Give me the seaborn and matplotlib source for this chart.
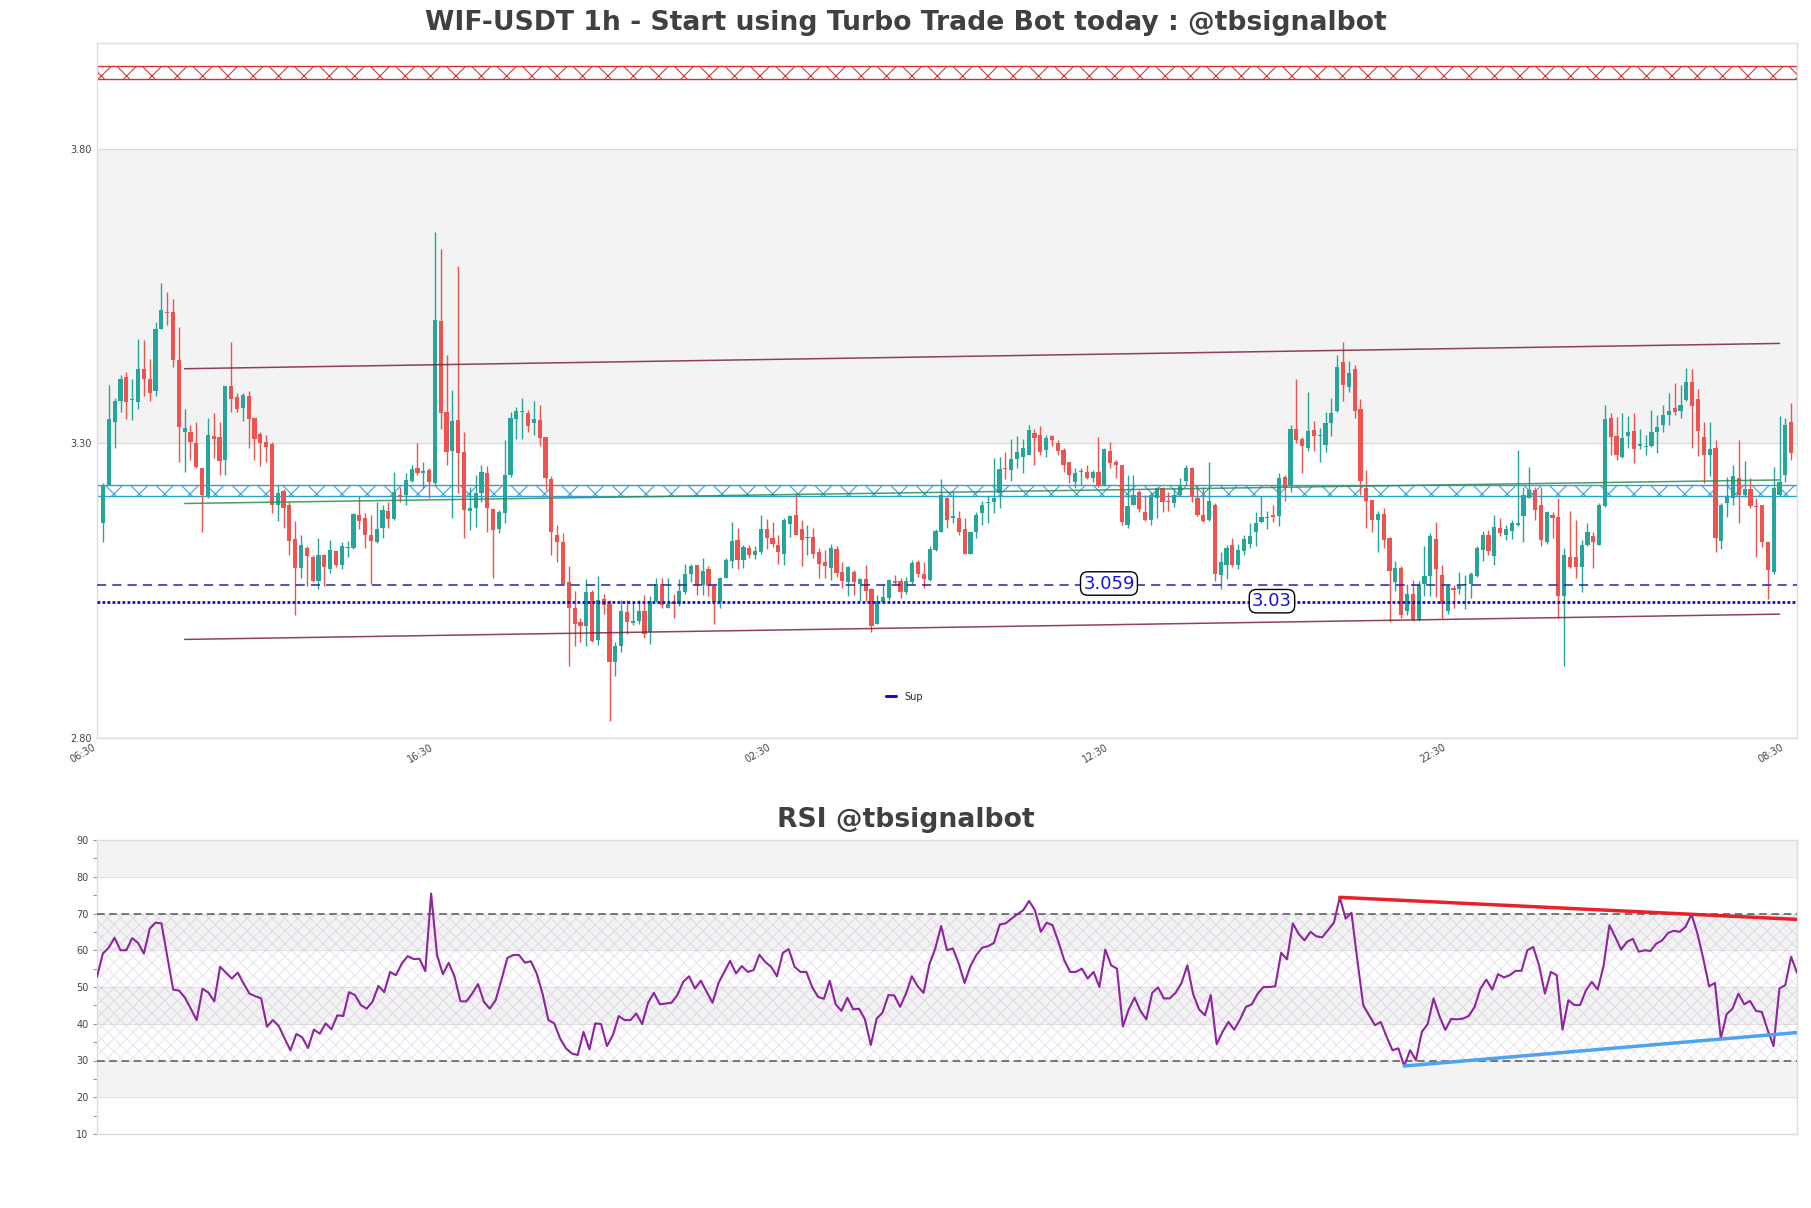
import numpy as np
import pandas as pd
import matplotlib
matplotlib.use("Agg")
import matplotlib.pyplot as plt
import seaborn as sns
from matplotlib.lines import Line2D

# ---------------- data ----------------
opens = [
    3.165, 3.230, 3.337, 3.372, 3.413, 3.374, 3.371, 3.426, 3.410, 3.389,
    3.495, 3.523, 3.523, 3.442, 3.320, 3.319, 3.300, 3.258, 3.209, 3.313,
    3.311, 3.272, 3.397, 3.379, 3.361, 3.380, 3.344, 3.316, 3.303, 3.299,
    3.195, 3.219, 3.195, 3.137, 3.089, 3.122, 3.107, 3.066, 3.111, 3.086,
    3.117, 3.093, 3.122, 3.123, 3.179, 3.173, 3.144, 3.133, 3.157, 3.185,
    3.171, 3.213, 3.213, 3.236, 3.258, 3.249, 3.255, 3.232, 3.508, 3.353,
    3.287, 3.340, 3.285, 3.186, 3.191, 3.215, 3.249, 3.188, 3.155, 3.181,
    3.246, 3.342, 3.354, 3.352, 3.334, 3.340, 3.311, 3.239, 3.144, 3.133,
    3.065, 3.021, 2.996, 2.989, 3.048, 2.966, 3.036, 3.028, 2.928, 2.955,
    3.013, 2.995, 2.998, 3.015, 2.979, 3.032, 3.062, 3.021, 3.031, 3.028,
    3.048, 3.079, 3.094, 3.060, 3.087, 3.058, 3.030, 3.072, 3.100, 3.136,
    3.102, 3.122, 3.111, 3.115, 3.155, 3.139, 3.128, 3.113, 3.163, 3.179,
    3.155, 3.140, 3.141, 3.115, 3.099, 3.089, 3.121, 3.081, 3.065, 3.081,
    3.062, 3.069, 3.053, 2.994, 3.031, 3.037, 3.066, 3.066, 3.047, 3.065,
    3.098, 3.079, 3.068, 3.119, 3.150, 3.207, 3.173, 3.174, 3.155, 3.113,
    3.150, 3.181, 3.199, 3.200, 3.215, 3.259, 3.255, 3.273, 3.277, 3.281,
    3.317, 3.315, 3.289, 3.313, 3.300, 3.289, 3.268, 3.234, 3.251, 3.252,
    3.242, 3.251, 3.229, 3.287, 3.268, 3.264, 3.162, 3.196, 3.218, 3.184,
    3.170, 3.208, 3.225, 3.202, 3.198, 3.213, 3.236, 3.259, 3.207, 3.179,
    3.170, 3.196, 3.076, 3.093, 3.128, 3.094, 3.117, 3.130, 3.149, 3.167,
    3.174, 3.179, 3.177, 3.243, 3.228, 3.324, 3.308, 3.293, 3.323, 3.312,
    3.297, 3.334, 3.355, 3.439, 3.396, 3.426, 3.358, 3.225, 3.204, 3.170,
    3.180, 3.140, 3.064, 3.088, 3.015, 3.045, 3.000, 3.062, 3.074, 3.137,
    3.077, 3.015, 3.054, 3.053, 3.059, 3.061, 3.075, 3.119, 3.145, 3.109,
    3.157, 3.144, 3.151, 3.161, 3.177, 3.208, 3.221, 3.195, 3.133, 3.179,
    3.175, 3.040, 3.107, 3.107, 3.090, 3.128, 3.142, 3.128, 3.194, 3.344,
    3.313, 3.277, 3.313, 3.321, 3.296, 3.294, 3.296, 3.320, 3.332, 3.348,
    3.361, 3.355, 3.374, 3.405, 3.375, 3.311, 3.280, 3.293, 3.134, 3.198,
    3.207, 3.242, 3.213, 3.222, 3.194, 3.195, 3.132, 3.082, 3.212, 3.247, 3.336,
]
highs = [
    3.232, 3.399, 3.378, 3.416, 3.422, 3.410, 3.478, 3.476, 3.443, 3.507,
    3.573, 3.558, 3.545, 3.498, 3.358, 3.332, 3.336, 3.258, 3.344, 3.351,
    3.337, 3.397, 3.472, 3.385, 3.385, 3.389, 3.344, 3.320, 3.314, 3.303,
    3.229, 3.222, 3.200, 3.168, 3.145, 3.125, 3.110, 3.139, 3.113, 3.136,
    3.117, 3.133, 3.135, 3.181, 3.211, 3.181, 3.179, 3.201, 3.195, 3.201,
    3.252, 3.226, 3.249, 3.263, 3.300, 3.269, 3.258, 3.660, 3.630, 3.450,
    3.391, 3.602, 3.320, 3.226, 3.247, 3.263, 3.262, 3.191, 3.187, 3.306,
    3.354, 3.362, 3.378, 3.357, 3.372, 3.365, 3.311, 3.245, 3.162, 3.147,
    3.092, 3.049, 3.003, 3.070, 3.051, 3.074, 3.045, 3.034, 2.963, 3.034,
    3.034, 3.031, 3.034, 3.043, 3.040, 3.072, 3.072, 3.071, 3.045, 3.070,
    3.096, 3.096, 3.094, 3.106, 3.091, 3.062, 3.073, 3.105, 3.167, 3.156,
    3.127, 3.128, 3.126, 3.179, 3.171, 3.167, 3.145, 3.173, 3.179, 3.215,
    3.170, 3.161, 3.156, 3.123, 3.119, 3.130, 3.125, 3.099, 3.092, 3.085,
    3.072, 3.093, 3.054, 3.042, 3.061, 3.070, 3.076, 3.071, 3.073, 3.102,
    3.102, 3.099, 3.125, 3.155, 3.239, 3.209, 3.218, 3.185, 3.173, 3.150,
    3.184, 3.202, 3.211, 3.276, 3.277, 3.285, 3.308, 3.313, 3.308, 3.331,
    3.324, 3.329, 3.315, 3.315, 3.306, 3.292, 3.268, 3.259, 3.258, 3.264,
    3.255, 3.311, 3.293, 3.302, 3.272, 3.264, 3.247, 3.247, 3.221, 3.213,
    3.218, 3.226, 3.226, 3.218, 3.224, 3.241, 3.263, 3.260, 3.229, 3.226,
    3.268, 3.198, 3.116, 3.128, 3.140, 3.130, 3.144, 3.164, 3.184, 3.211,
    3.185, 3.196, 3.249, 3.246, 3.331, 3.409, 3.311, 3.388, 3.338, 3.327,
    3.353, 3.378, 3.450, 3.473, 3.440, 3.433, 3.375, 3.255, 3.204, 3.185,
    3.191, 3.141, 3.100, 3.091, 3.062, 3.068, 3.066, 3.125, 3.147, 3.167,
    3.094, 3.062, 3.059, 3.082, 3.077, 3.082, 3.126, 3.151, 3.153, 3.178,
    3.173, 3.162, 3.170, 3.289, 3.226, 3.260, 3.226, 3.226, 3.185, 3.184,
    3.208, 3.123, 3.185, 3.170, 3.136, 3.164, 3.150, 3.198, 3.366, 3.351,
    3.345, 3.351, 3.347, 3.351, 3.325, 3.315, 3.357, 3.348, 3.366, 3.385,
    3.402, 3.399, 3.429, 3.426, 3.393, 3.336, 3.337, 3.306, 3.198, 3.243,
    3.264, 3.306, 3.270, 3.241, 3.207, 3.196, 3.133, 3.260, 3.347, 3.343, 3.369,
]
lows = [
    3.133, 3.229, 3.292, 3.354, 3.342, 3.340, 3.358, 3.381, 3.372, 3.381,
    3.495, 3.501, 3.430, 3.269, 3.252, 3.272, 3.258, 3.150, 3.207, 3.275,
    3.246, 3.246, 3.354, 3.354, 3.338, 3.292, 3.272, 3.262, 3.268, 3.181,
    3.168, 3.156, 3.111, 3.009, 3.072, 3.058, 3.065, 3.052, 3.058, 3.080,
    3.090, 3.086, 3.107, 3.121, 3.155, 3.122, 3.062, 3.131, 3.139, 3.157,
    3.170, 3.201, 3.195, 3.235, 3.247, 3.224, 3.207, 3.230, 3.325, 3.263,
    3.173, 3.215, 3.139, 3.153, 3.158, 3.201, 3.150, 3.072, 3.147, 3.164,
    3.243, 3.308, 3.308, 3.319, 3.315, 3.296, 3.221, 3.111, 3.098, 3.059,
    2.922, 2.956, 2.963, 2.955, 2.963, 2.957, 3.011, 2.828, 2.905, 2.946,
    2.977, 2.991, 2.994, 2.970, 2.959, 3.030, 3.020, 3.020, 3.003, 3.024,
    3.045, 3.065, 3.042, 3.042, 3.041, 2.994, 3.021, 3.071, 3.088, 3.087,
    3.088, 3.106, 3.104, 3.113, 3.121, 3.124, 3.096, 3.093, 3.141, 3.144,
    3.092, 3.110, 3.105, 3.072, 3.071, 3.068, 3.073, 3.054, 3.041, 3.042,
    3.032, 3.032, 2.980, 2.993, 3.030, 3.034, 3.061, 3.038, 3.044, 3.062,
    3.073, 3.055, 3.066, 3.117, 3.149, 3.157, 3.164, 3.144, 3.112, 3.112,
    3.140, 3.162, 3.164, 3.181, 3.190, 3.240, 3.236, 3.258, 3.249, 3.280,
    3.264, 3.280, 3.277, 3.296, 3.280, 3.252, 3.232, 3.224, 3.229, 3.239,
    3.235, 3.226, 3.228, 3.259, 3.241, 3.161, 3.156, 3.195, 3.183, 3.168,
    3.162, 3.174, 3.183, 3.185, 3.192, 3.211, 3.229, 3.200, 3.177, 3.166,
    3.168, 3.066, 3.053, 3.070, 3.090, 3.087, 3.110, 3.123, 3.126, 3.164,
    3.155, 3.167, 3.160, 3.202, 3.218, 3.300, 3.249, 3.287, 3.287, 3.269,
    3.286, 3.313, 3.354, 3.372, 3.387, 3.344, 3.213, 3.157, 3.150, 3.116,
    3.123, 2.997, 3.049, 3.003, 3.008, 2.998, 2.998, 3.041, 3.041, 3.039,
    3.004, 3.011, 3.020, 3.045, 3.019, 3.037, 3.073, 3.100, 3.110, 3.093,
    3.143, 3.136, 3.137, 3.160, 3.133, 3.207, 3.170, 3.125, 3.130, 3.140,
    3.004, 2.922, 3.088, 3.072, 3.048, 3.126, 3.089, 3.127, 3.192, 3.280,
    3.272, 3.276, 3.293, 3.266, 3.290, 3.280, 3.294, 3.283, 3.320, 3.331,
    3.348, 3.344, 3.372, 3.293, 3.279, 3.232, 3.245, 3.115, 3.121, 3.175,
    3.196, 3.164, 3.209, 3.190, 3.107, 3.124, 3.036, 3.079, 3.211, 3.234, 3.272,
]
closes = [
    3.229, 3.341, 3.372, 3.410, 3.371, 3.375, 3.426, 3.410, 3.386, 3.495,
    3.526, 3.521, 3.442, 3.328, 3.326, 3.303, 3.260, 3.213, 3.315, 3.308,
    3.271, 3.397, 3.376, 3.358, 3.382, 3.342, 3.308, 3.300, 3.294, 3.195,
    3.215, 3.191, 3.134, 3.089, 3.128, 3.109, 3.066, 3.111, 3.090, 3.119,
    3.093, 3.126, 3.124, 3.180, 3.169, 3.145, 3.134, 3.155, 3.187, 3.171,
    3.218, 3.209, 3.238, 3.256, 3.249, 3.253, 3.234, 3.510, 3.351, 3.286,
    3.338, 3.284, 3.187, 3.191, 3.216, 3.252, 3.191, 3.153, 3.184, 3.247,
    3.344, 3.355, 3.355, 3.329, 3.341, 3.310, 3.242, 3.149, 3.133, 3.062,
    3.021, 2.994, 2.989, 3.048, 2.964, 3.034, 3.025, 2.928, 2.956, 3.015,
    2.997, 2.998, 3.015, 2.976, 3.032, 3.062, 3.025, 3.028, 3.027, 3.049,
    3.079, 3.092, 3.060, 3.083, 3.057, 3.030, 3.071, 3.102, 3.134, 3.102,
    3.124, 3.111, 3.117, 3.155, 3.139, 3.130, 3.116, 3.170, 3.177, 3.145,
    3.136, 3.141, 3.113, 3.096, 3.092, 3.122, 3.080, 3.066, 3.090, 3.065,
    3.069, 3.049, 2.990, 3.032, 3.039, 3.068, 3.063, 3.047, 3.066, 3.097,
    3.079, 3.069, 3.120, 3.151, 3.212, 3.170, 3.177, 3.149, 3.113, 3.149,
    3.179, 3.196, 3.201, 3.208, 3.256, 3.256, 3.273, 3.285, 3.293, 3.323,
    3.310, 3.286, 3.310, 3.306, 3.287, 3.263, 3.247, 3.249, 3.253, 3.242,
    3.252, 3.230, 3.290, 3.266, 3.264, 3.166, 3.194, 3.213, 3.188, 3.170,
    3.213, 3.224, 3.201, 3.201, 3.213, 3.229, 3.258, 3.209, 3.179, 3.168,
    3.202, 3.079, 3.099, 3.123, 3.093, 3.119, 3.137, 3.143, 3.164, 3.175,
    3.175, 3.175, 3.241, 3.226, 3.324, 3.306, 3.296, 3.321, 3.313, 3.313,
    3.334, 3.351, 3.430, 3.399, 3.419, 3.355, 3.236, 3.202, 3.170, 3.180,
    3.136, 3.083, 3.088, 3.009, 3.045, 3.000, 3.060, 3.074, 3.142, 3.087,
    3.028, 3.057, 3.051, 3.057, 3.061, 3.079, 3.122, 3.145, 3.117, 3.158,
    3.147, 3.155, 3.164, 3.164, 3.212, 3.221, 3.187, 3.136, 3.183, 3.174,
    3.040, 3.110, 3.090, 3.090, 3.128, 3.149, 3.132, 3.195, 3.341, 3.311,
    3.281, 3.309, 3.319, 3.290, 3.299, 3.296, 3.319, 3.328, 3.349, 3.355,
    3.353, 3.366, 3.405, 3.364, 3.321, 3.280, 3.290, 3.140, 3.195, 3.209,
    3.245, 3.213, 3.222, 3.194, 3.192, 3.132, 3.085, 3.224, 3.234, 3.332, 3.283,
]
rsi = [
    52.8, 59.1, 60.7, 63.4, 60.0, 60.0, 63.3, 62.0, 59.1, 65.9,
    67.5, 67.3, 58.2, 49.3, 49.0, 47.1, 44.1, 41.0, 49.5, 48.5,
    46.1, 55.5, 53.9, 52.3, 53.9, 51.0, 48.2, 47.5, 46.9, 39.2,
    41.0, 39.4, 36.0, 32.8, 37.2, 36.3, 33.4, 38.4, 37.3, 40.1,
    38.5, 42.3, 42.1, 48.6, 47.8, 45.1, 44.1, 46.0, 50.3, 48.6,
    54.1, 53.2, 56.4, 58.4, 57.6, 57.7, 54.3, 75.4, 58.7, 53.5,
    56.6, 52.8, 46.1, 46.1, 48.2, 50.8, 46.0, 44.1, 46.4, 52.0,
    57.9, 58.7, 58.7, 56.6, 57.0, 53.7, 48.2, 41.0, 40.1, 36.0,
    33.3, 31.9, 31.5, 37.8, 33.0, 40.1, 39.9, 33.9, 36.9, 42.1,
    41.0, 41.0, 42.8, 39.9, 45.7, 48.4, 45.3, 45.5, 45.7, 47.8,
    51.4, 52.9, 49.6, 51.7, 48.7, 45.7, 51.0, 54.1, 57.1, 53.7,
    55.7, 54.1, 54.6, 58.8, 56.8, 55.5, 52.9, 59.3, 60.3, 55.5,
    54.1, 54.1, 50.0, 47.3, 46.8, 51.7, 45.3, 43.5, 47.1, 43.9,
    44.1, 41.2, 34.2, 41.4, 43.0, 47.8, 47.7, 44.6, 48.2, 52.9,
    50.2, 48.4, 56.2, 60.5, 66.6, 60.0, 60.5, 56.4, 51.1, 55.7,
    58.7, 60.7, 61.1, 62.0, 67.0, 67.3, 68.6, 69.8, 70.9, 73.4,
    70.9, 65.0, 67.5, 66.8, 62.3, 57.3, 54.1, 54.1, 55.0, 52.3,
    54.1, 50.0, 60.2, 55.9, 55.0, 39.2, 43.9, 47.1, 43.5, 41.2,
    48.4, 49.9, 46.9, 46.9, 48.4, 51.1, 55.9, 48.0, 43.9, 42.3,
    47.8, 34.4, 37.8, 40.5, 38.4, 41.2, 44.6, 45.3, 48.2, 50.0,
    50.0, 50.2, 59.3, 57.5, 67.3, 64.4, 62.7, 65.0, 63.8, 63.5,
    65.5, 67.5, 74.4, 68.6, 70.2, 57.3, 45.1, 42.3, 39.6, 40.5,
    36.4, 32.8, 33.3, 28.5, 32.8, 30.1, 37.8, 39.9, 46.9, 42.1,
    38.3, 41.3, 41.2, 41.4, 42.1, 44.6, 49.6, 52.0, 49.3, 53.5,
    52.6, 53.2, 54.4, 54.4, 60.0, 60.9, 55.9, 48.2, 54.1, 53.2,
    38.4, 46.4, 45.1, 45.1, 49.1, 51.4, 49.3, 55.7, 66.8, 63.6,
    60.2, 62.3, 63.1, 59.6, 60.0, 59.8, 61.8, 62.7, 64.7, 65.3,
    65.0, 66.4, 69.8, 64.6, 57.8, 50.2, 51.1, 36.0, 42.6, 44.1,
    48.2, 45.3, 46.2, 43.5, 43.2, 38.3, 33.9, 49.6, 50.5, 58.2, 53.9,
]

xtick_labels = ["06:30", "16:30", "02:30", "12:30", "22:30", "08:30"]
price_ticks = [2.80, 3.30, 3.80]
rsi_ticks = [10, 20, 30, 40, 50, 60, 70, 80, 90]

resist_zone = [3.920, 3.941]
pivot_zone = [3.211, 3.230]
sup_dashed = 3.059
sup_dotted = 3.03
line_x = [14, 288]
channel_upper = [3.427, 3.470]
channel_lower = [2.967, 3.010]
mid_line = [3.198, 3.238]

rsi_res_x = [212, 290]
rsi_res_y = [74.4, 68.4]
rsi_sup_x = [223, 290]
rsi_sup_y = [28.5, 37.6]

TITLE = "WIF-USDT 1h - Start using Turbo Trade Bot today : @tbsignalbot"
RSI_TITLE = "RSI @tbsignalbot"

# ---------------- styling ----------------
sns.set_theme(style="white")
plt.rcParams["font.family"] = ["DejaVu Sans"]
plt.rcParams["hatch.linewidth"] = 1.0

DPI = 76                 # hatch cells of ~12.7 px as in the reference
K = 100 / DPI            # keep point sizes equal to their 100-dpi pixel sizes


def pt(v):
    return v * K


UP = "#26a69a"
DOWN = "#ef5350"
SPINE = "#dddddd"
BAND = "#f3f3f3"

W, H = 1811, 1208
fig = plt.figure(figsize=(W / DPI, H / DPI), dpi=DPI)
ax = fig.add_axes([97 / W, 1 - 737.7 / H, 1700 / W, (737.7 - 43.3) / H])
ax2 = fig.add_axes([97 / W, 1 - 1134 / H, 1700 / W, (1134 - 840) / H])

# ---------------- price panel ----------------
df = pd.DataFrame({"open": opens, "high": highs, "low": lows, "close": closes})
df["idx"] = np.arange(len(df))
up = df["close"] >= df["open"]
colors = np.where(up, UP, DOWN)

ax.axhspan(price_ticks[1], price_ticks[2], color=BAND, lw=0, zorder=0)
for v in price_ticks:
    ax.axhline(v, color="#dcdcdc", lw=pt(1), zorder=1)

ax.axhspan(resist_zone[0], resist_zone[1], facecolor="none", edgecolor="#d9302c",
           hatch="x", lw=pt(1), zorder=2)
ax.axhspan(pivot_zone[0], pivot_zone[1], facecolor="none", edgecolor="#2b9fd9",
           hatch="x", lw=pt(1), zorder=2)

ax.vlines(df["idx"], df["low"], df["high"], colors=colors, lw=pt(1), zorder=3)
body = (df["close"] - df["open"]).abs().clip(lower=0.0017)
ax.bar(df["idx"], body, bottom=np.minimum(df["open"], df["close"]), width=0.72,
       color=colors, lw=0, zorder=4)

sns.lineplot(x=line_x, y=channel_upper, ax=ax, color="#7d2235", lw=pt(1.1), alpha=0.85, zorder=5)
sns.lineplot(x=line_x, y=channel_lower, ax=ax, color="#7d2235", lw=pt(1.1), alpha=0.85, zorder=5)
sns.lineplot(x=line_x, y=mid_line, ax=ax, color="#2e8b4f", lw=pt(1.1), alpha=0.85, zorder=5)

ax.axhline(sup_dashed, color="#2323a8", ls=(0, (6, 4)), lw=pt(1.1), zorder=5)
ax.axhline(sup_dotted, color="#0b0bd0", ls=(0, (1, 0.8)), lw=pt(2.0), zorder=5)

box = dict(boxstyle="round,pad=0.15,rounding_size=0.4", fc="white", ec="black", lw=pt(1))
ax.text(172.8, sup_dashed + 0.003, f"{sup_dashed:.3f}", color="#1515d8", fontsize=pt(13),
        ha="center", va="center", bbox=box, zorder=6)
ax.text(200.8, sup_dotted + 0.002, f"{sup_dotted:.2f}", color="#1515d8", fontsize=pt(13),
        ha="center", va="center", bbox=box, zorder=6)

ax.legend(handles=[Line2D([], [], color="#1010c0", lw=pt(2.2))], labels=["Sup"],
          loc="center", bbox_to_anchor=(0.475, 0.059), frameon=False, fontsize=pt(7),
          handlelength=1.0, handletextpad=0.8)

ax.set_xlim(-1.05, len(df) - 1 + 1.0)
ax.set_ylim(2.80, 3.98)
ax.set_yticks(price_ticks)
ax.set_yticklabels([f"{v:.2f}" for v in price_ticks])
ax.set_xticks(np.arange(-1, len(df), 58)[: len(xtick_labels)])
ax.set_xticklabels(xtick_labels, rotation=30, ha="right")
ax.tick_params(axis="both", labelsize=pt(7), labelcolor="#444444", length=0, pad=pt(4))
ax.tick_params(axis="x", pad=pt(3))
ax.set_xlabel("")
ax.set_ylabel("")
for s in ax.spines.values():
    s.set_color(SPINE)
    s.set_linewidth(pt(1))

# ---------------- RSI panel ----------------
for lo in [20, 40, 60, 80]:
    ax2.axhspan(lo, lo + 10, color=BAND, lw=0, zorder=0)
for v in rsi_ticks:
    ax2.axhline(v, color="#e2e2e2", lw=pt(0.8), zorder=0.5)
ax2.axhspan(30, 70, facecolor="none", edgecolor=(0.62, 0.5, 0.72, 0.22),
            hatch="xx", lw=0, zorder=1)

rsi_idx = np.arange(len(rsi))
sns.lineplot(x=rsi_idx, y=rsi, ax=ax2, color="#8e249e", lw=pt(1.5), zorder=4)
ax2.axhline(70, color="#555555", ls=(0, (5, 3)), lw=pt(1.1), zorder=3)
ax2.axhline(30, color="#555555", ls=(0, (5, 3)), lw=pt(1.1), zorder=3)
sns.lineplot(x=rsi_res_x, y=rsi_res_y, ax=ax2, color="#e8202a", lw=pt(2.5), zorder=5)
sns.lineplot(x=rsi_sup_x, y=rsi_sup_y, ax=ax2, color="#4da3ee", lw=pt(2.5), zorder=5)

ax2.set_xlim(0, len(rsi) - 1)
ax2.set_ylim(10, 90)
ax2.set_yticks(rsi_ticks)
ax2.set_yticks(np.arange(15, 90, 10), minor=True)
ax2.set_xticks([])
ax2.tick_params(axis="y", which="both", left=True, length=pt(3), width=pt(0.8),
                color="#999999", labelsize=pt(7), labelcolor="#444444", pad=pt(3))
ax2.set_xlabel("")
ax2.set_ylabel("")
for s in ax2.spines.values():
    s.set_color(SPINE)
    s.set_linewidth(pt(1))

# ---------------- titles ----------------
fig.text(0.5, 1 - 23 / H, TITLE, ha="center", va="center", fontsize=pt(19.2),
         fontweight="bold", color="#404040")
fig.text(0.5, 1 - 820 / H, RSI_TITLE, ha="center", va="center", fontsize=pt(19.2),
         fontweight="bold", color="#404040")

fig.savefig("out.png", dpi=DPI)
